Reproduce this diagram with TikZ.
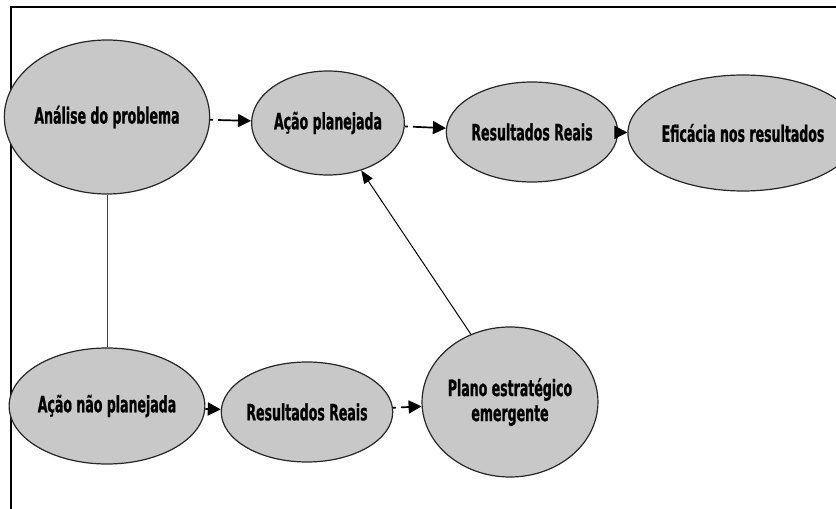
\documentclass[tikz,border=0pt]{standalone}
\usepackage{fontspec}
\newfontfamily\lblfont[FakeStretch=0.62,FakeBold=0.8]{DejaVu Sans Condensed Bold}
\usetikzlibrary{shapes.geometric,arrows.meta}
\definecolor{nodefill}{RGB}{200,200,200}
\tikzset{
  bubble/.style={ellipse, draw=black!85, line width=1.2pt, fill=nodefill, inner sep=0pt,
    font=\lblfont\fontsize{22.5}{25}\selectfont, align=center},
  flow/.style={line width=1.7pt, -{Triangle[length=13pt,width=13pt]}, dash pattern=on 3pt off 5pt on 400pt},
  link/.style={line width=0.9pt, draw=black!75},
}
\begin{document}
\begin{tikzpicture}[x=1pt,y=1pt]
\useasboundingbox (0,0) rectangle (836,509);
\draw[line width=1.8pt] (11,0) -- (11,502) -- (836,502);
\node[bubble, minimum width=178pt, minimum height=154pt] (anal) at (107,392) {Análise do problema};
\node[bubble, minimum width=128pt, minimum height=104pt] (acao) at (328,386) {Ação planejada};
\node[bubble, minimum width=140pt, minimum height=100pt] (res1) at (532,377) {Resultados Reais};
\node[bubble, minimum width=180pt, minimum height=116pt] (efic) at (743,376) {Eficácia nos resultados};
\node[bubble, minimum width=156pt, minimum height=116pt] (nao) at (107,103) {Ação não planejada};
\node[bubble, minimum width=140pt, minimum height=100pt] (res2) at (307,97) {Resultados Reais};
\node[bubble, minimum width=156pt, minimum height=150pt] (plano) at (510,107) {Plano estratégico\\emergente};
\draw[flow] (anal) -- (acao);
\draw[flow] (acao) -- (res1);
\draw[flow] (res1) -- (efic);
\draw[flow] (nao) -- (res2);
\draw[flow] (res2) -- (plano);
\draw[link] (anal) -- (nao);
\draw[line width=1pt, -{Triangle[length=13pt,width=10pt]}] (plano.120) -- (acao.-55);
\end{tikzpicture}
\end{document}
